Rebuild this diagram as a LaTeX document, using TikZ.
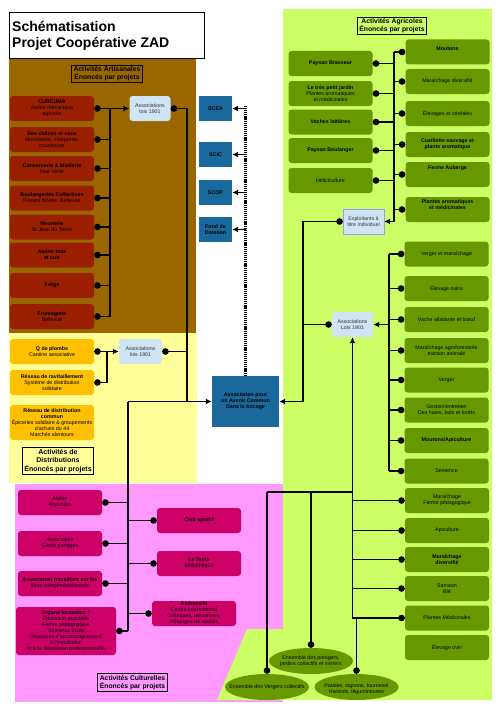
\documentclass[tikz,border=0pt]{standalone}
\usepackage{fontspec}
\setmainfont{Liberation Sans}
\usetikzlibrary{arrows.meta,shapes.geometric}
\definecolor{brun}{HTML}{996600}
\definecolor{jaune}{HTML}{FFFF99}
\definecolor{rose}{HTML}{FF99FF}
\definecolor{vertclair}{HTML}{CCFF66}
\definecolor{rouge}{HTML}{991F00}
\definecolor{orjaune}{HTML}{FFC000}
\definecolor{cultmag}{HTML}{CC0066}
\definecolor{vertfonce}{HTML}{669900}
\definecolor{bleu}{HTML}{1A699C}
\definecolor{bleuclair}{HTML}{CFE4F5}
\begin{document}
\begin{tikzpicture}[x=1pt,y=-1pt,
  every node/.style={font=\fontsize{5.3}{6}\selectfont, align=center, inner sep=1pt},
  box/.style={rounded corners=3pt, minimum width=84pt, minimum height=25pt},
  arti/.style={box, fill=rouge},
  distri/.style={box, fill=orjaune},
  cult/.style={box, fill=cultmag},
  agri/.style={box, fill=vertfonce},
  bleubox/.style={fill=bleu, minimum width=33pt, minimum height=25pt, font=\fontsize{5.3}{6}\selectfont\bfseries},
  asso/.style={rounded corners=3pt, fill=bleuclair, minimum width=41pt, minimum height=25pt, text=black!80},
  hdr/.style={draw, line width=0.8pt, font=\fontsize{6.8}{8}\selectfont\bfseries, inner xsep=2pt, inner ysep=1.5pt},
  ell/.style={ellipse, fill=vertfonce, minimum width=84pt, minimum height=26pt, inner sep=-10pt},
  conn/.style={line width=1.8pt},
  dotstart/.style={{Circle[length=6.5pt,width=6.5pt]}-},
  enddot/.style={-{Circle[length=6.5pt,width=6.5pt]}},
  fl/.style={-{Latex[length=6pt,width=6pt]}},
  dotfl/.style={{Circle[length=6.5pt,width=6.5pt]}-{Latex[length=6pt,width=6pt]}},
  flindot/.style={{Latex[length=6pt,width=6pt]}-{Circle[length=6.5pt,width=6.5pt]}},
  dotl/.style={line width=2.8pt, dash pattern=on 1.2pt off 0.9pt}]
\useasboundingbox (0,0) rectangle (500,709);

% zones
\fill[brun] (9,59) rectangle (196,333);
\fill[jaune] (9,333) rectangle (197,483);
\fill[rose] (15,484) rectangle (283,702);
\fill[vertclair] (283,9) -- (492,9) -- (492,700) -- (217,700) -- (247,629) -- (283,629) -- cycle;
\draw[fill=white, line width=1pt] (9,13) rectangle (204,59);
\node[anchor=west, align=left, font=\fontsize{14}{16.5}\selectfont\bfseries] (titre) at (11,36) {Schématisation\\Projet Coopérative ZAD};

% titres des zones
\node[hdr] (hart) at (107,74) {Activités Artisanales\\Énoncés par projets};
\node[hdr] (hagr) at (392,26) {Activités Agricoles\\Énoncés par projets};
\node[hdr, font=\fontsize{7}{8.5}\selectfont\bfseries] (hdis) at (58,461) {Activités de\\Distributions\\Énoncés par projets};
\node[hdr] (hcul) at (132.5,682.5) {Activités Culturelles\\Énoncés par projets};

% artisanat
\foreach \n/\y/\t in {
  a1/108.5/{\textbf{CURCUMA}\\Atelier mécanique\\agricole},
  a2/139.5/{\textbf{Des chênes et vous}\\Menuiserie, charpente,\\couverture},
  a3/168.5/{\textbf{Conserverie \& Miellerie}\\Noé Verte},
  a4/198/{\textbf{Boulangeries Collectives}\\Fosses Noires, Bellevue},
  a5/227/{\textbf{Meunerie}\\St Jean du Tertre},
  a6/255/{\textbf{Atelier bois}\\\textbf{et cuir}},
  a7/285.5/{\textbf{Forge}},
  a8/316.5/{\textbf{Fromagerie}\\Bellevue}}
  \node[arti] (\n) at (52,\y) {\t};

% structures
\foreach \n/\y/\t in {scea/108.5/SCEA, scic/154.5/SCIC, scop/192.5/SCOP, fond/229.5/{Fond de\\Dotation}}
  \node[bleubox] (\n) at (215.5,\y) {\t};
\node[bleubox, minimum width=67pt, minimum height=51pt] (apac) at (245.5,401.5) {Association pour\\un Avenir Commun\\Dans le bocage};

\node[asso] (as1) at (150,108.5) {Associations\\lois 1901};
\node[asso, minimum width=43pt] (as2) at (140.5,351.5) {Associations\\lois 1901};
\node[asso, rounded corners=0pt, draw=bleuclair!70!blue, thin] (ex) at (363.5,221.5) {Exploitants à\\titre individuel};
\node[asso] (as3) at (352.5,324.5) {Associations\\Lois 1901};

% distribution
\node[distri] (d1) at (52,351.5) {\textbf{Q de plombs}\\Cantine associative};
\node[distri] (d2) at (52,382.5) {\textbf{Réseau de ravitaillement}\\Système de distribution\\solidaire};
\node[distri, minimum height=35pt] (d3) at (52,422.5) {\textbf{Réseau de distribution}\\\textbf{commun}\\Épiceries solidaire \& groupements\\d'achats du 44\\Marchés alentours};

% culture
\node[cult] (c1) at (60,502.5) {Atelier\\Populaire};
\node[cult] (c2) at (60,543.5) {Association\\Garde partagée};
\node[cult] (c3) at (60,583.5) {\textbf{Association travaillant sur les}\\liens intergénérationnels};
\node[cult, minimum width=100pt, minimum height=48pt] (c4) at (66,631) {\textbf{Organe formation ?}\\Éducation populaire\\Ferme pédagogique\\Tousseau école\\Dispositifs d'accompagnement\\à l'installation\\et à la réinsertion professionnelle};
\node[cult] (c5) at (199,520.5) {\textbf{Club sportif}};
\node[cult] (c6) at (199,563.5) {\textbf{Le Taslu}\\Bibliothèque};
\node[cult] (c7) at (194,613.5) {\textbf{Ambazada}\\Centre international\\Colloques, rencontres,\\échanges de savoirs};

% agriculture
\foreach \n/\y/\t in {
  g1/63.5/{\textbf{Paysan Brasseur}},
  g2/93.5/{\textbf{Le très petit jardin}\\Plantes aromatiques\\et médicinales},
  g3/122/{\textbf{Vaches laitières}},
  g4/150.5/{\textbf{Paysan Boulanger}},
  g5/180.5/{Héliciculture}}
  \node[agri] (\n) at (330.5,\y) {\t};
\node[agri, text depth=6pt] (h1) at (447.5,52) {\textbf{Moutons}};
\node[agri] (h2) at (447.5,81.5) {Maraîchage diversifié};
\node[agri] (h3) at (447.5,113.5) {Élevages et céréales};
\node[agri] (h4) at (447.5,144.5) {\textbf{Cueillette sauvage et}\\\textbf{plante aromatique}};
\node[agri, text depth=13pt] (h5) at (447.5,174.5) {\textbf{Ferme Auberge}};
\node[agri, text depth=10pt] (h6) at (447.5,209.5) {\textbf{Plantes aromatiques}\\\textbf{et médicinales}};
\foreach \n/\y/\t in {
  k1/254/{Verger et maraîchage},
  k2/288.5/{Élevage ovins},
  k3/319.5/{Vache allaitante et bœuf},
  k4/350.5/{Maraîchage agroforesterie\\traction animale},
  k5/380/{Verger},
  k6/410/{Gestion/entretien\\Des haies, bois et forêts},
  k7/440.5/{\textbf{Moutons/Apiculture}},
  k8/471/{Semence}}
  \node[agri] (\n) at (446.5,\y) {\t};
\foreach \n/\y/\t in {
  m1/500.5/{Maraîchage\\Ferme pédagogique},
  m2/530.5/{Apiculture},
  m3/559.5/{\textbf{Maraîchage}\\\textbf{diversifié}},
  m4/588.5/{Sarrasin\\Blé},
  m5/618/{Plantes Médicinales},
  m6/647.5/{Élevage ovin}}
  \node[agri] (\n) at (447,\y) {\t};
\node[ell] (e2) at (311,661) {Ensemble des potagers,\\jardins collectifs et vivriers};
\node[ell] (e1) at (267,687) {Ensemble des Vergers collectifs};
\node[ell] (e3) at (356.5,687) {:\\Patates, oignons, tournesol\\Haricots, légumineuses};

% liaisons
\coordinate (ab) at (110,0);
\coordinate (jb) at (187,401.5);
\coordinate (cb) at (128,401.5);
\coordinate (db) at (107,0);
\coordinate (gb) at (394,0);
\coordinate (xb) at (303,0);
\coordinate (kb) at (389,0);
\coordinate (vb) at (267,492);

\draw[conn, dotfl] (a1.east) -- (as1.west);
\draw[conn] (a1.east -| ab) -- (a8.east -| ab);
\foreach \i in {2,...,8} \draw[conn, dotstart] (a\i.east) -- (a\i.east -| ab);
\draw[conn, dotstart] (as1.east) -| (jb);
\draw[conn, dotstart] (as2.east) -- (as2.east -| jb);
\draw[conn, fl] (cb) -- (apac.west);

\draw[conn, dotfl] (d1.east) -- (as2.west);
\draw[conn, dotstart] (d2.east) -| (db |- d1.east);

\draw[conn] (cb) -- (cb |- c4.east);
\foreach \i in {1,...,4} \draw[conn, dotstart] (c\i.east) -- (c\i.east -| cb);
\foreach \i in {5,6,7} \draw[conn, dotstart] (c\i.west) -- (c\i.west -| cb);

\draw[dotl] (apac.north) -- ++(0,-270);
\foreach \n in {scea,scic,scop,fond} \draw[line width=1.5pt, fl] (\n.east -| apac.north) -- (\n.east);

\draw[conn] (gb |- h1.west) -- (gb |- ex.east);
\foreach \i in {1,...,5} \draw[conn, dotstart] (g\i.east) -- (g\i.east -| gb);
\foreach \i in {1,...,6} \draw[conn, dotstart] (h\i.west) -- (h\i.west -| gb);
\draw[conn, fl] (gb |- ex.east) -- (ex.east);
\draw[conn, dotfl] (ex.west) -| (xb |- as3.west) |- (apac.east);
\draw[conn, dotstart] (as3.west) -- (as3.west -| xb);

\draw[conn] (kb |- k1.west) -- (kb |- k8.west);
\foreach \i in {1,...,8} \draw[conn, dotstart] (k\i.west) -- (k\i.west -| kb);
\draw[conn, fl] (as3.east -| kb) -- (as3.east);

\draw[conn, flindot] (as3.south) |- (m5.west);
\foreach \i in {1,...,4} \draw[conn, dotstart] (m\i.west) -- (m\i.west -| as3.south);
\draw[conn] (vb) -- (vb -| as3.south);
\draw[conn, enddot] (vb) -- (e1.north);
\draw[conn, enddot] (vb -| e2.north) -- (e2.north);
\draw[conn, enddot] (e3.north |- m5.west) -- (e3.north);
\end{tikzpicture}
\end{document}
